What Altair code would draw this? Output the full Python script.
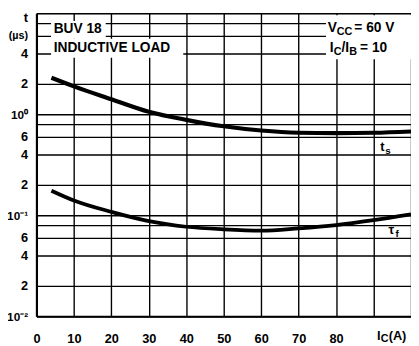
import altair as alt
import pandas as pd

# ---- data ----
ic = [4, 10, 20, 30, 40, 50, 60, 70, 80, 90, 100]
ts = [2.3, 1.89, 1.41, 1.06, 0.88, 0.76, 0.69, 0.656, 0.65, 0.656, 0.676]
tf = [0.175, 0.14, 0.108, 0.0875, 0.077, 0.0726, 0.0705, 0.0743, 0.080, 0.0894, 0.102]

y_ticks = [0.01, 0.02, 0.04, 0.06, 0.08, 0.1, 0.2, 0.4, 0.6, 0.8, 1, 2, 4, 6, 8, 10]
y_labels = ["10⁻²", "2", "4", "6", "", "10⁻¹", "2", "4", "6", "", "10⁰", "2", "4", "(µs)", "", "t"]
x_ticks = [0, 10, 20, 30, 40, 50, 60, 70, 80, 90, 100]
x_labels = ["0", "10", "20", "30", "40", "50", "60", "70", "80", "", ""]

# white label boxes (data coords): x, x2, y, y2
box_x = [3.9, 3.9, 77.3]
box_x2 = [18.5, 39.2, 100]
box_y = [8.4, 5.59, 9.56]
box_y2 = [5.59, 3.62, 3.5]

FONT = "Liberation Sans"

def lbl_expr(vals, labels):
    expr = "''"
    for v, l in zip(reversed(vals), reversed(labels)):
        expr = f"datum.value == {v} ? '{l}' : ({expr})"
    return expr

curve_df = pd.DataFrame({"ic": ic * 2, "t": ts + tf,
                         "series": ["ts"] * len(ic) + ["tf"] * len(ic)})

xscale = alt.Scale(domain=[0, 100], nice=False, zero=False)
yscale = alt.Scale(type="log", domain=[0.01, 10], nice=False)

X_AX = alt.Axis(values=x_ticks, labelExpr=lbl_expr(x_ticks, x_labels), title=None,
                grid=True, gridColor="black", gridWidth=1.4, gridOpacity=1,
                ticks=False, domainColor="black", domainWidth=2.2,
                labelFont=FONT, labelFontWeight="bold", labelFontSize=13,
                labelColor="black", labelPadding=17, labelFlush=False,
                labelOverlap=False, labelSeparation=0)
Y_AX = alt.Axis(values=y_ticks, labelExpr=lbl_expr(y_ticks, y_labels), title=None,
                grid=True, gridColor="black", gridWidth=1.4, gridOpacity=1,
                ticks=False, domainColor="black", domainWidth=2.2,
                labelFont=FONT, labelFontWeight="bold",
                labelFontSize={"condition": [
                    {"test": "datum.value == 6", "value": 11},
                    {"test": "datum.value == 0.01 || datum.value == 0.1 || datum.value == 1",
                     "value": 12}],
                    "value": 13},
                labelOffset={"condition": {"test": "datum.value == 10", "value": 4},
                             "value": 0},
                labelColor="black", labelPadding=9, labelFlush=False,
                labelOverlap=False)

def X(f):
    return alt.X(f, type="quantitative", scale=xscale, axis=X_AX)

def Y(f):
    return alt.Y(f, type="quantitative", scale=yscale, axis=Y_AX)

box_df = pd.DataFrame({"x": box_x, "x2": box_x2, "y": box_y, "y2": box_y2})
boxes = alt.Chart(box_df).mark_rect(color="white").encode(
    x=X("x"), x2="x2:Q", y=Y("y"), y2="y2:Q")

ts_line = alt.Chart(curve_df[curve_df.series == "ts"]).mark_line(
    color="black", strokeWidth=4.2, interpolate="monotone").encode(x=X("ic"), y=Y("t"))
tf_line = alt.Chart(curve_df[curve_df.series == "tf"]).mark_line(
    color="black", strokeWidth=3.8, interpolate="monotone").encode(x=X("ic"), y=Y("t"))

# text pieces: text, x, y, dx, dy, size
pieces = [
    ("BUV 18", 4.6, 6.9, 0, 0, 14),
    ("INDUCTIVE LOAD", 4.6, 4.5, 0, 0, 14),
    ("V", 77.8, 7.15, 0, 0, 14),
    ("CC", 77.8, 7.15, 9, 4, 11),
    ("= 60 V", 77.8, 7.15, 27, 0, 14),
    ("I", 78.3, 4.5, 0, 0, 14),
    ("C", 78.3, 4.5, 4, 4, 11),
    ("/I", 78.3, 4.5, 12, 0, 14),
    ("B", 78.3, 4.5, 20, 4, 11),
    ("= 10", 78.3, 4.5, 31, 0, 14),
    ("t", 91.8, 0.47, 0, 0, 13),
    ("s", 91.8, 0.47, 5, 4, 10),
    ("τ", 94.0, 0.0714, 0, 0, 13),
    ("f", 94.0, 0.0714, 7, 4, 10),
    ("I", 90.9, 0.0063, 0, 0, 13),
    ("C", 90.9, 0.0063, 4, 3, 11),
    ("(A)", 90.9, 0.0063, 12, 0, 13),
]
texts = []
for t, x, y, dx, dy, s in pieces:
    d = pd.DataFrame({"text": [t], "x": [x], "y": [y]})
    texts.append(alt.Chart(d).mark_text(
        align="left", baseline="middle", dx=dx, dy=dy, fontSize=s,
        font=FONT, fontWeight="bold", color="black").encode(
        x=X("x"), y=Y("y"), text="text:N"))

chart = alt.layer(boxes, ts_line, tf_line, *texts).properties(
    width=382, height=309,
    autosize=alt.AutoSizeParams(type="none"),
    padding={"left": 29, "top": 2, "right": 0, "bottom": 30},
).configure_view(stroke="black", strokeWidth=2).configure(background="white")

chart.save("out.html", embed_options={"renderer": "svg", "actions": False})
